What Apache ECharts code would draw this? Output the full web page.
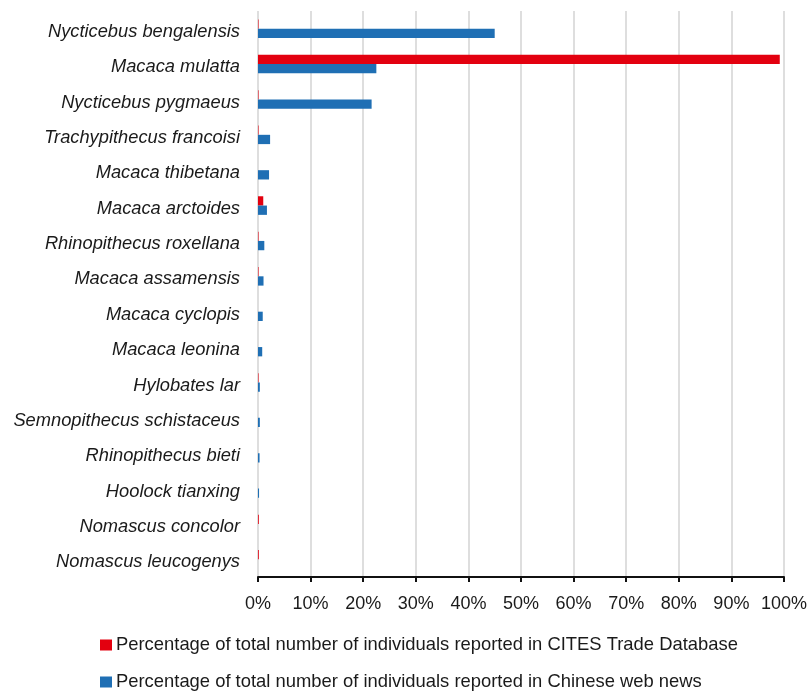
<!DOCTYPE html>
<html>
<head>
<meta charset="utf-8">
<script src="https://cdn.jsdelivr.net/npm/echarts@6/dist/echarts.min.js"></script>
<style>
  html, body { margin: 0; padding: 0; background: #fff; }
  #chart { width: 810px; height: 692px; }
</style>
</head>
<body>
<div id="chart"></div>
<script>
// species, top to bottom
const species = [
  'Nycticebus bengalensis', 'Macaca mulatta', 'Nycticebus pygmaeus',
  'Trachypithecus francoisi', 'Macaca thibetana', 'Macaca arctoides',
  'Rhinopithecus roxellana', 'Macaca assamensis', 'Macaca cyclopis',
  'Macaca leonina', 'Hylobates lar', 'Semnopithecus schistaceus',
  'Rhinopithecus bieti', 'Hoolock tianxing', 'Nomascus concolor',
  'Nomascus leucogenys'
];
// % of individuals in CITES Trade Database
const citesPct = [0.1, 99.2, 0.1, 0.1, 0, 1.0, 0.1, 0.1, 0, 0, 0.1, 0, 0, 0, 0.15, 0.15];
// % of individuals in Chinese web news
const newsPct = [45.0, 22.5, 21.6, 2.3, 2.1, 1.7, 1.2, 1.05, 0.9, 0.8, 0.35, 0.35, 0.3, 0.2, 0, 0];
const xTicks = [0, 10, 20, 30, 40, 50, 60, 70, 80, 90, 100];

const citesName = 'Percentage of total number of individuals reported in CITES Trade Database';
const newsName = 'Percentage of total number of individuals reported in Chinese web news';

const RED = '#e3000f';
const BLUE = '#1f6fb4';
const FONT = 'Liberation Sans';
const TEXT = '#1a1a1a';

const chart = echarts.init(document.getElementById('chart'));

// one legend per row, stacked under the plot
const legendRow = (name, top) => ({
  orient: 'horizontal',
  left: 100,
  top: top,
  padding: 0,
  itemWidth: 12,
  itemHeight: 11,
  icon: 'rect',
  textStyle: { fontFamily: FONT, fontSize: 18.4, color: TEXT, padding: [0, 0, 0, -1] },
  data: [name]
});

chart.setOption({
  animation: false,
  grid: { left: 258, right: 25, top: 11, bottom: 115, containLabel: false },
  legend: [legendRow(citesName, 636), legendRow(newsName, 673)],
  xAxis: {
    type: 'value',
    min: xTicks[0],
    max: xTicks[xTicks.length - 1],
    interval: 10,
    axisLine: { show: true, lineStyle: { color: '#111', width: 2 } },
    axisTick: { show: true, length: 5, lineStyle: { color: '#111', width: 2 } },
    axisLabel: {
      fontFamily: FONT, fontSize: 18, color: TEXT, margin: 18,
      formatter: v => v + '%'
    },
    splitLine: { show: true, lineStyle: { color: '#dedede', width: 2 } }
  },
  yAxis: {
    type: 'category',
    inverse: true,
    data: species,
    axisLine: { show: false },
    axisTick: { show: false },
    axisLabel: {
      margin: 18,
      formatter: v => '{s|' + v + '}',
      rich: {
        // nudge names a few px below the band centre, as in the original
        s: {
          fontFamily: FONT, fontSize: 18.3, fontStyle: 'italic', color: TEXT,
          lineHeight: 22, padding: [6, 0, 0, 0]
        }
      }
    },
    splitLine: { show: false }
  },
  series: [
    {
      name: citesName,
      type: 'bar',
      data: citesPct,
      barWidth: 9.3,
      barGap: '0%',
      itemStyle: { color: RED }
    },
    {
      name: newsName,
      type: 'bar',
      data: newsPct,
      barWidth: 9.3,
      barGap: '0%',
      itemStyle: { color: BLUE }
    }
  ]
});
</script>
</body>
</html>
